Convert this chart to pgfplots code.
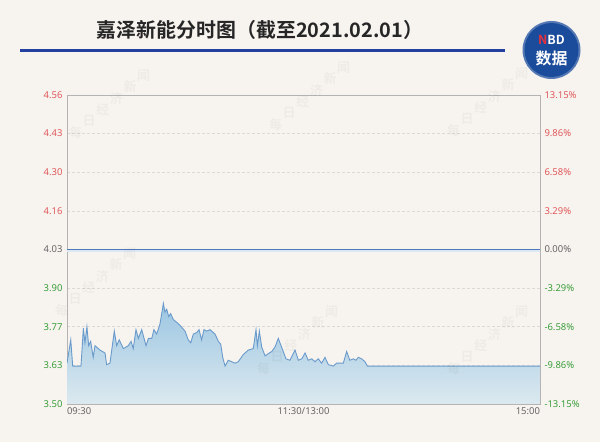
\documentclass[border=0pt]{standalone}
\usepackage{pgfplots}
\pgfplotsset{compat=1.18}
\usepackage{pgfplotstable}
\usepackage{fontspec}
\setmainfont{Noto Sans}
\newfontfamily\cjk{Noto Sans CJK SC}
\newfontfamily\cjkb{Noto Sans CJK SC Bold}
\definecolor{bg}{HTML}{F7F4F0}
\definecolor{frame}{HTML}{B4B4B4}
\definecolor{gridc}{HTML}{DCDAD6}
\definecolor{upc}{HTML}{E0585A}
\definecolor{dnc}{HTML}{3A9E3A}
\definecolor{neu}{HTML}{666666}
\definecolor{linec}{HTML}{6A9ACB}
\definecolor{refc}{HTML}{4F78B8}
\definecolor{refl}{HTML}{DCE8F4}
\definecolor{filltop}{HTML}{9CC6E2}
\definecolor{fillbot}{HTML}{DCE9EF}
\definecolor{navy}{HTML}{2340A0}
\definecolor{logo}{HTML}{1B4B9B}
\definecolor{nred}{HTML}{E8303A}

\pgfplotstableread{
t v
0 3.64
1.9 3.72
2.9 3.63
7.1 3.63
8.3 3.76
9.1 3.71
10.1 3.765
11.0 3.70
12.0 3.715
13.3 3.66
14.2 3.70
16.7 3.685
19.3 3.675
20.1 3.635
21.8 3.64
24.0 3.75
25.2 3.70
26.5 3.72
28.6 3.69
31.1 3.70
32.5 3.715
33.6 3.69
35.0 3.755
36.2 3.725
37.9 3.755
40.1 3.70
41.3 3.725
43.0 3.725
44.1 3.755
45.5 3.74
47.2 3.775
48.9 3.845
49.7 3.815
50.6 3.825
51.6 3.80
52.6 3.81
53.9 3.79
55.7 3.78
57.3 3.77
59.9 3.75
61.5 3.72
62.8 3.71
64.1 3.74
65.8 3.745
67.0 3.755
68.3 3.72
69.5 3.755
70.9 3.75
72.6 3.755
75.1 3.74
76.8 3.715
78.0 3.705
79.0 3.66
80.2 3.63
81.8 3.65
83.6 3.645
85.2 3.64
86.9 3.645
89.5 3.67
92.0 3.685
94.5 3.69
95.9 3.755
96.6 3.70
97.6 3.75
98.8 3.695
100.5 3.665
102.6 3.675
103.9 3.68
105.5 3.695
107.2 3.725
108.9 3.695
111.1 3.655
113.1 3.65
115.7 3.685
117.4 3.65
119.1 3.655
120.8 3.675
122.4 3.65
124.2 3.655
125.8 3.645
127.5 3.655
129.2 3.64
130.9 3.66
132.6 3.635
135.1 3.63
136.8 3.64
140.2 3.64
141.9 3.68
143.5 3.65
145.3 3.655
146.6 3.65
147.8 3.66
149.5 3.655
151.2 3.645
152.4 3.63
240 3.63
}\pricedata

\begin{document}
\begin{tikzpicture}[x=1bp,y=1bp]
\useasboundingbox (0,0) rectangle (600,442);
\fill[bg] (0,0) rectangle (600,442);
% title
\node[font=\cjkb\fontsize{20}{22}\selectfont, text=black!85] at (260,412) {嘉泽新能分时图（截至2021.02.01）};
\draw[navy, line width=3bp] (20,391) -- (505,391);
% logo
\fill[logo!75!white] (551.5,392) circle (29);
\fill[logo] (551.5,392) circle (27);
\node[font=\cjkb\fontsize{12.5}{13}\selectfont, text=white, inner sep=0pt] at (551.5,402.5) {\textcolor{nred}{N}BD};
\node[font=\cjkb\fontsize{16}{16}\selectfont, text=white, inner sep=0pt] at (551.5,384) {数据};

\begin{axis}[
  at={(67bp,38bp)}, anchor=south west,
  scale only axis, width=473bp, height=309bp,
  xmin=0, xmax=240, ymin=3.50, ymax=4.56,
  axis line style={frame, line width=0.8bp},
  xtick={0,120,240},
  xticklabels={\makebox[0pt][l]{09:30}, 11:30/13:00, \makebox[0pt][r]{15:00}},
  ytick={3.50,3.6325,3.765,3.8975,4.03,4.1625,4.295,4.4275,4.56},
  yticklabels={\textcolor{dnc}{3.50},\textcolor{dnc}{3.63},\textcolor{dnc}{3.77},\textcolor{dnc}{3.90},\textcolor{neu}{4.03},\textcolor{upc}{4.16},\textcolor{upc}{4.30},\textcolor{upc}{4.43},\textcolor{upc}{4.56}},
  major tick length=0pt,
  ymajorgrids,
  grid style={gridc, dash pattern=on 3bp off 2bp, line width=0.6bp},
  xticklabel style={font=\fontsize{9.5}{10}\selectfont, text=neu, yshift=0bp},
  yticklabel style={font=\fontsize{9.5}{10}\selectfont, xshift=-1bp},
  /pgf/number format/assume math mode=true,
  clip=true,
]
\addplot[draw=none, shade, top color=filltop, bottom color=fillbot]
  table[x=t,y=v]{
t v
0 3.50
0 3.64
1.9 3.72
2.9 3.63
7.1 3.63
8.3 3.76
9.1 3.71
10.1 3.765
11.0 3.70
12.0 3.715
13.3 3.66
14.2 3.70
16.7 3.685
19.3 3.675
20.1 3.635
21.8 3.64
24.0 3.75
25.2 3.70
26.5 3.72
28.6 3.69
31.1 3.70
32.5 3.715
33.6 3.69
35.0 3.755
36.2 3.725
37.9 3.755
40.1 3.70
41.3 3.725
43.0 3.725
44.1 3.755
45.5 3.74
47.2 3.775
48.9 3.845
49.7 3.815
50.6 3.825
51.6 3.80
52.6 3.81
53.9 3.79
55.7 3.78
57.3 3.77
59.9 3.75
61.5 3.72
62.8 3.71
64.1 3.74
65.8 3.745
67.0 3.755
68.3 3.72
69.5 3.755
70.9 3.75
72.6 3.755
75.1 3.74
76.8 3.715
78.0 3.705
79.0 3.66
80.2 3.63
81.8 3.65
83.6 3.645
85.2 3.64
86.9 3.645
89.5 3.67
92.0 3.685
94.5 3.69
95.9 3.755
96.6 3.70
97.6 3.75
98.8 3.695
100.5 3.665
102.6 3.675
103.9 3.68
105.5 3.695
107.2 3.725
108.9 3.695
111.1 3.655
113.1 3.65
115.7 3.685
117.4 3.65
119.1 3.655
120.8 3.675
122.4 3.65
124.2 3.655
125.8 3.645
127.5 3.655
129.2 3.64
130.9 3.66
132.6 3.635
135.1 3.63
136.8 3.64
140.2 3.64
141.9 3.68
143.5 3.65
145.3 3.655
146.6 3.65
147.8 3.66
149.5 3.655
151.2 3.645
152.4 3.63
240 3.63
240 3.50
} -- cycle;
\addplot[linec, line width=0.9bp, mark=none] table[x=t,y=v]{\pricedata};
\addplot[refl, line width=2.5bp, mark=none, yshift=-1.6bp] coordinates {(0,4.03) (240,4.03)};
\addplot[refc, line width=0.9bp, mark=none] coordinates {(0,4.03) (240,4.03)};
\end{axis}

\begin{axis}[
  at={(67bp,38bp)}, anchor=south west,
  scale only axis, width=473bp, height=309bp,
  xmin=0, xmax=240, ymin=3.50, ymax=4.56,
  axis x line=none,
  axis y line*=right,
  axis line style={frame, line width=0.8bp},
  ytick={3.50,3.6325,3.765,3.8975,4.03,4.1625,4.295,4.4275,4.56},
  yticklabels={\textcolor{dnc}{-13.15\%},\textcolor{dnc}{-9.86\%},\textcolor{dnc}{-6.58\%},\textcolor{dnc}{-3.29\%},\textcolor{neu}{0.00\%},\textcolor{upc}{3.29\%},\textcolor{upc}{6.58\%},\textcolor{upc}{9.86\%},\textcolor{upc}{13.15\%}},
  major tick length=0pt,
  yticklabel style={font=\fontsize{9.5}{10}\selectfont, xshift=1bp},
  /pgf/number format/assume math mode=true,
]
\addplot[draw=none] coordinates {(0,4.03)};
\end{axis}
% faint watermarks, one glyph per node along a diagonal
\foreach \px/\py in {62/298, 262/306, 440/300, 48/120, 250/62, 440/62}{
  \foreach \ch [count=\i] in {每,日,经,济,新,闻}{
    \node[text=black, opacity=0.035, inner sep=0pt, font=\cjkb\fontsize{13}{13}\selectfont]
      at ({\px+13.6*\i},{\py+11.4*\i}) {\ch};
  }
}
\end{tikzpicture}
\end{document}
